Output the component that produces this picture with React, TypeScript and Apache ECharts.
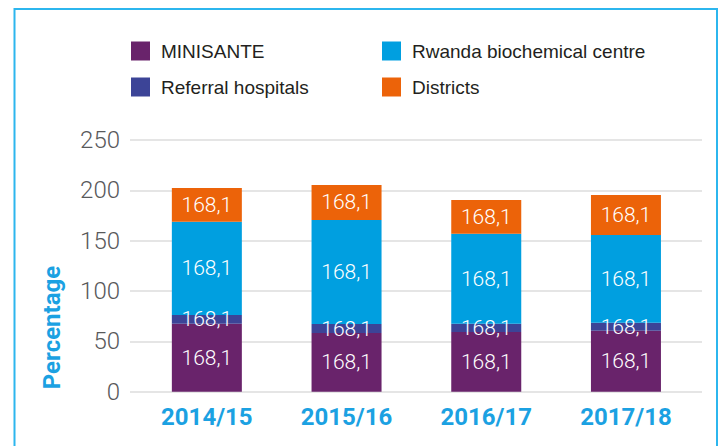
import React, { useEffect, useRef } from "react";
import * as echarts from "echarts";

const categories = ["2014/15", "2015/16", "2016/17", "2017/18"];
const seriesNames = ["MINISANTE", "Referral hospitals", "Rwanda biochemical centre", "Districts"];
const minisante = [67.5, 58.2, 59.3, 60.6];
const referral = [8.7, 9.1, 8.2, 7.9];
const rwandaBio = [92.6, 103.3, 89.4, 87.1];
const districts = [33.5, 34.7, 33.5, 39.7];
const labelTexts = ["168,1", "168,1", "168,1", "168,1"];
const yTicks = { min: 0, max: 250, interval: 50 };
const colors = ["#69236b", "#3c4497", "#009fe0", "#ec6309"];

export default function App() {
  const ref = useRef<HTMLDivElement>(null);
  useEffect(() => {
    document.body.style.margin = "0";
    const chart = echarts.init(ref.current!, null, { renderer: "svg" });
    const values = [minisante, referral, rwandaBio, districts];
    const legendText = {
      fontFamily: "'Liberation Sans', Arial, sans-serif",
      fontSize: 19,
      color: "#231f20",
      padding: [0, 0, 0, 6],
    };
    chart.setOption({
      animation: false,
      grid: [
        { left: 130, right: 17, top: 140, bottom: 54.3 },
        { left: 137, right: 23.2, top: 140, bottom: 54.3 },
      ],
      legend: [
        {
          orient: "vertical",
          left: 131,
          top: 41.5,
          padding: 0,
          itemWidth: 19,
          itemHeight: 19,
          itemGap: 17,
          icon: "rect",
          data: ["MINISANTE", "Referral hospitals"],
          textStyle: legendText,
        },
        {
          orient: "vertical",
          left: 382,
          top: 41.5,
          padding: 0,
          itemWidth: 19,
          itemHeight: 19,
          itemGap: 17,
          icon: "rect",
          data: ["Rwanda biochemical centre", "Districts"],
          textStyle: legendText,
        },
      ],
      xAxis: [
        {
          type: "category",
          gridIndex: 0,
          data: categories,
          show: false,
        },
        {
          type: "category",
          gridIndex: 1,
          data: categories,
          axisLine: { show: false },
          axisTick: { show: false },
          axisLabel: {
            margin: 13,
            fontFamily: "Roboto, sans-serif",
            fontWeight: "bold",
            fontSize: 24,
            color: "#1ba1e2",
          },
        },
      ],
      yAxis: [
        {
          type: "value",
          gridIndex: 0,
          min: yTicks.min,
          max: yTicks.max,
          interval: yTicks.interval,
          axisLine: { show: false },
          axisTick: { show: false },
          splitLine: { lineStyle: { color: "#dcdcdc", width: 1.5 } },
          axisLabel: {
            margin: 10,
            fontFamily: "Roboto, sans-serif",
            fontWeight: 300,
            fontSize: 24,
            color: "#58595b",
          },
        },
        {
          type: "value",
          gridIndex: 1,
          min: yTicks.min,
          max: yTicks.max,
          interval: yTicks.interval,
          show: false,
          splitLine: { show: false },
        },
      ],
      series: seriesNames.map((name, i) => ({
        name,
        type: "bar",
        stack: "total",
        xAxisIndex: 1,
        yAxisIndex: 1,
        barWidth: 70,
        itemStyle: { color: colors[i] },
        data: values[i],
        label: {
          show: true,
          position: "inside",
          formatter: (p: any) => labelTexts[p.dataIndex],
          fontFamily: "Roboto, sans-serif",
          fontWeight: 300,
          fontSize: 21,
          color: "#ffffff",
        },
      })),
      graphic: [
        {
          type: "rect",
          shape: { x: 14.5, y: 9, width: 702.5, height: 460 },
          style: { fill: "none", stroke: "#2cb6ee", lineWidth: 2 },
          silent: true,
        },
        {
          type: "text",
          x: 51.7,
          y: 327.5,
          rotation: Math.PI / 2,
          style: {
            text: "Percentage",
            fontFamily: "Roboto, sans-serif",
            fontWeight: "bold",
            fontSize: 24,
            fill: "#1ba1e2",
            align: "center",
            verticalAlign: "middle",
          },
        },
      ],
    });
    return () => chart.dispose();
  }, []);
  return <div ref={ref} style={{ width: 719, height: 446 }} />;
}
